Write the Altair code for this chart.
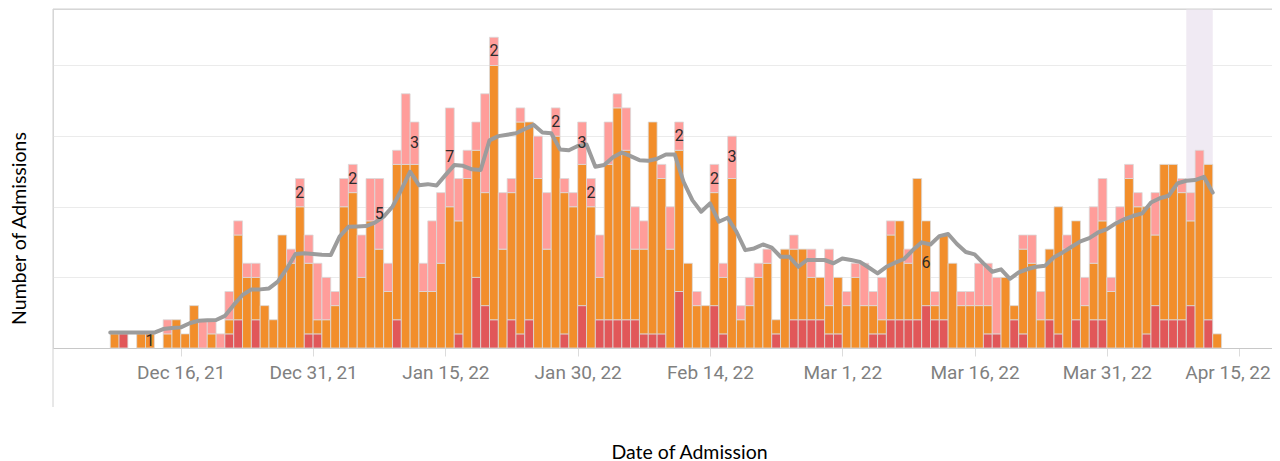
import altair as alt
import pandas as pd

# ---------------- data ----------------
START = "2021-12-08"   # first day with data; one value per day below

red = [0, 1, 0, 0, 0, 0, 0, 0, 0, 0, 0, 0, 0, 1, 2, 0, 2, 0, 0, 0, 0, 0, 1, 1,
       0, 0, 0, 0, 0, 0, 0, 0, 2, 0, 0, 0, 0, 0, 0, 1, 0, 5, 3, 2, 0, 2, 1, 2,
       0, 0, 0, 1, 0, 3, 0, 2, 2, 2, 2, 2, 1, 1, 1, 0, 4, 0, 0, 0, 3, 1, 0, 0,
       0, 0, 0, 1, 0, 2, 2, 2, 2, 1, 1, 0, 0, 0, 1, 1, 2, 2, 2, 2, 3, 2, 2, 0,
       0, 0, 0, 1, 1, 0, 2, 1, 0, 0, 2, 1, 0, 2, 0, 2, 2, 0, 0, 0, 0, 1, 3, 2,
       2, 2, 3, 0, 2, 0]
orange = [1, 0, 0, 1, 1, 0, 1, 2, 1, 3, 0, 1, 0, 1, 6, 5, 3, 3, 2, 8, 6, 10, 5, 1,
          2, 3, 10, 11, 5, 9, 7, 4, 11, 13, 13, 4, 4, 6, 10, 8, 12, 9, 8, 18, 7, 9, 15, 14,
          12, 7, 15, 10, 10, 10, 10, 3, 11, 15, 12, 5, 6, 15, 11, 7, 10, 6, 3, 3, 8, 4, 12, 2,
          3, 5, 6, 1, 7, 5, 5, 3, 3, 2, 4, 3, 5, 3, 2, 1, 6, 7, 4, 10, 6, 1, 6, 6,
          3, 3, 3, 2, 0, 5, 1, 6, 6, 2, 5, 9, 7, 7, 3, 4, 7, 4, 9, 12, 10, 9, 5, 11,
          11, 9, 6, 12, 11, 1]
pink = [0, 0, 0, 0, 0, 0, 1, 0, 0, 0, 2, 1, 1, 2, 1, 1, 1, 0, 0, 0, 1, 2, 2, 4,
        3, 1, 2, 2, 3, 3, 5, 2, 1, 5, 3, 2, 5, 5, 7, 3, 2, 2, 7, 2, 4, 1, 1, 0,
        3, 4, 2, 1, 1, 3, 2, 3, 3, 1, 3, 3, 2, 0, 1, 3, 2, 0, 1, 0, 2, 1, 3, 1,
        2, 1, 1, 0, 0, 1, 0, 2, 0, 4, 0, 1, 1, 3, 1, 3, 1, 0, 1, 0, 0, 1, 0, 0,
        1, 1, 3, 3, 4, 0, 0, 1, 2, 2, 0, 0, 1, 0, 2, 4, 3, 1, 1, 1, 1, 0, 3, 0,
        0, 1, 2, 2, 0, 0]

# moving average line (one point per day, same days as the bars)
avg = [1.09, 1.09, 1.09, 1.09, 1.09, 1.09, 1.34, 1.42, 1.46, 1.75, 1.93, 1.96,
       1.98, 2.27, 3.05, 3.75, 4.15, 4.15, 4.22, 4.7, 5.6, 6.65, 6.7, 6.65,
       6.6, 6.58, 7.88, 8.58, 8.6, 8.63, 8.87, 9.3, 10.0, 11.2, 12.48, 11.53,
       11.6, 11.5, 12.24, 12.95, 12.9, 12.65, 12.6, 14.7, 15.0, 15.1, 15.2, 15.5,
       15.8, 15.26, 15.2, 14.06, 14.0, 14.3, 14.4, 12.83, 12.95, 13.5, 13.84, 13.58,
       13.3, 13.25, 13.4, 13.7, 13.7, 11.77, 10.47, 9.65, 10.24, 8.94, 9.22, 8.23,
       6.93, 7.05, 7.33, 7.1, 6.46, 6.46, 5.75, 6.23, 6.23, 6.23, 6.0, 6.34,
       6.23, 6.1, 5.7, 5.28, 5.75, 6.04, 6.3, 6.93, 7.48, 7.33, 7.92, 8.07,
       7.36, 6.8, 6.63, 5.99, 5.4, 5.57, 4.9, 5.35, 5.59, 5.75, 5.83, 6.42,
       6.77, 7.17, 7.55, 7.78, 8.18, 8.42, 8.82, 9.13, 9.36, 9.53, 10.3, 10.6,
       10.78, 11.65, 11.84, 11.89, 12.12, 11.0]

# segment labels shown on some bars
label_dates = ["2021-12-12", "2021-12-29", "2022-01-04", "2022-01-07", "2022-01-11",
               "2022-01-15", "2022-01-20", "2022-01-27", "2022-01-30", "2022-01-31",
               "2022-02-10", "2022-02-14", "2022-02-16", "2022-03-10"]
label_series = ["Series 2", "Series 3", "Series 3", "Series 3", "Series 3",
                "Series 3", "Series 3", "Series 3", "Series 3", "Series 3",
                "Series 3", "Series 3", "Series 3", "Series 2"]

series_names = ["Series 1", "Series 2", "Series 3"]
series_colors = ["#e15759", "#f28e2b", "#ff9d9a"]

tick_dates = [(2021, 12, 16), (2021, 12, 31), (2022, 1, 15), (2022, 1, 30),
              (2022, 2, 14), (2022, 3, 1), (2022, 3, 16), (2022, 3, 31), (2022, 4, 15)]

highlight_start = "2022-04-09"
highlight_end = "2022-04-12"

# ---------------- tables ----------------
dates = pd.date_range(START, periods=len(red), freq="D")
rows = []
for i, d in enumerate(dates):
    base = 0
    for k, vals in enumerate([red, orange, pink]):
        if vals[i] > 0:
            rows.append({"date": d, "end": d + pd.Timedelta(days=1),
                         "series": series_names[k], "count": vals[i],
                         "y0": base, "y1": base + vals[i]})
        base += vals[i]
bars_df = pd.DataFrame(rows)

line_df = pd.DataFrame({"date": dates, "avg": avg})

lab_rows = []
for ds, s in zip(label_dates, label_series):
    i = list(dates).index(pd.Timestamp(ds))
    stack = [red[i], orange[i], pink[i]]
    k = series_names.index(s)
    base = sum(stack[:k])
    lab_rows.append({"mid": dates[i] + pd.Timedelta(hours=12),
                     "ymid": base + stack[k] / 2.0, "text": str(stack[k])})
lab_df = pd.DataFrame(lab_rows)

band_df = pd.DataFrame({"start": [pd.Timestamp(highlight_start)],
                        "stop": [pd.Timestamp(highlight_end)]})

# ---------------- chart ----------------
W, H = 1219, 339

xscale = alt.Scale(domain=[alt.DateTime(year=2021, month=12, date=1, hours=12, minutes=15),
                           alt.DateTime(year=2022, month=4, date=18, hours=17, minutes=15)])
yscale = alt.Scale(domain=[0, 24], nice=False)

xaxis = alt.Axis(values=[alt.DateTime(year=y, month=m, date=d) for (y, m, d) in tick_dates],
                 format="%b %-d, %y", title="Date of Admission", grid=False,
                 domainColor="#c8c8c8", tickColor="#dcdcdc", tickSize=8,
                 labelColor="#808080", labelFont="Roboto", labelFontSize=19,
                 labelPadding=7, labelFlush=40, labelFlushOffset=31, labelOverlap=False,
                 titleFont="Lato", titleFontSize=19.5, titleFontWeight="normal",
                 titleColor="#000000", titleX=636, titleY=104, titleAlign="center",
                 titleBaseline="middle")
yaxis = alt.Axis(values=[0, 5, 10, 15, 20], labels=False, ticks=False, domain=False,
                 grid=True, gridColor="#ebebeb", title="Number of Admissions",
                 titleFont="Lato", titleFontSize=19.5, titleFontWeight="normal",
                 titleColor="#000000", titleX=-34, titleY=219, titleAngle=270,
                 titleAlign="center", titleBaseline="middle")

band = alt.Chart(band_df).mark_rect(color="#f0eaf3").encode(
    x=alt.X("start:T", scale=xscale, axis=xaxis),
    x2="stop:T",
    y=alt.value(0), y2=alt.value(H))

bars = alt.Chart(bars_df).mark_rect(stroke="#dadada", strokeWidth=0.8).encode(
    x=alt.X("date:T", scale=xscale, axis=xaxis),
    x2="end:T",
    y=alt.Y("y1:Q", scale=yscale, axis=yaxis),
    y2="y0:Q",
    color=alt.Color("series:N", scale=alt.Scale(domain=series_names, range=series_colors),
                    legend=None))

line = alt.Chart(line_df).mark_line(color="#9c9c9c", strokeWidth=4, strokeJoin="round",
                                    strokeCap="round").encode(
    x=alt.X("date:T", scale=xscale, axis=xaxis),
    y=alt.Y("avg:Q", scale=yscale, axis=yaxis))

labels = alt.Chart(lab_df).mark_text(font="Roboto", fontSize=16, color="#2b2b2b",
                                     baseline="middle", align="center").encode(
    x=alt.X("mid:T", scale=xscale, axis=xaxis),
    y=alt.Y("ymid:Q", scale=yscale, axis=yaxis),
    text="text:N")

frame = pd.DataFrame({"k": [0]})
top_rule = alt.Chart(frame).mark_rule(color="#d0d0d0", strokeWidth=1).encode(
    x=alt.value(0), x2=alt.value(W), y=alt.value(0))
left_rule = alt.Chart(frame).mark_rule(color="#d0d0d0", strokeWidth=1).encode(
    x=alt.value(0), y=alt.value(0), y2=alt.value(398))

chart = alt.layer(band, bars, line, labels, top_rule, left_rule).properties(
    width=W, height=H,
    autosize=alt.AutoSizeParams(type="none"),
    padding={"left": 45, "top": 1, "right": 0, "bottom": 114},
).configure_view(stroke=None).configure(background="white")

chart.save("out.html", embed_options={"renderer": "svg", "actions": False})
